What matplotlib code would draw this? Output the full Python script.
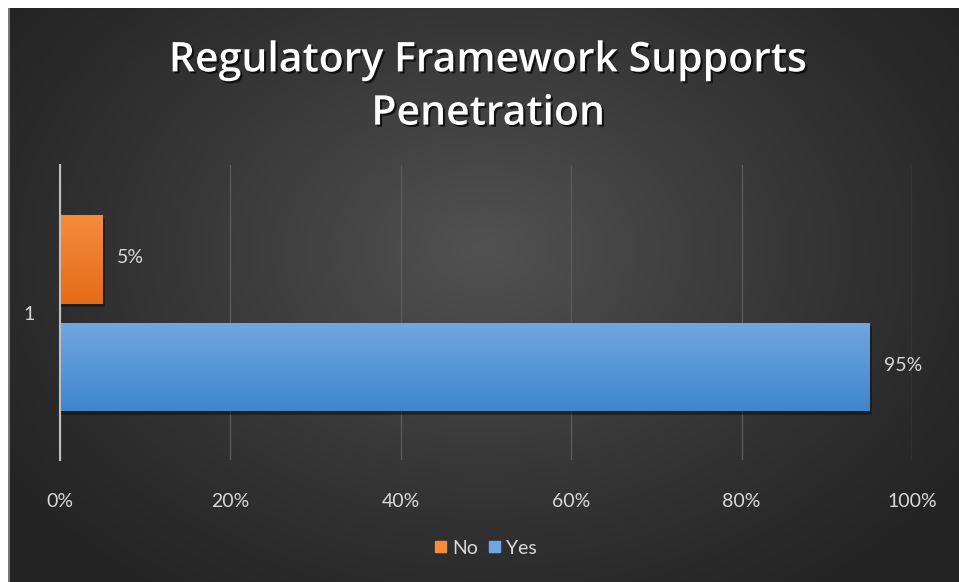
import numpy as np
import matplotlib
matplotlib.use("Agg")
import matplotlib.pyplot as plt
import matplotlib.patheffects as pe
from matplotlib.colors import LinearSegmentedColormap

#---------------------------------
# DATA
#---------------------------------

title = "Regulatory Framework Supports\nPenetration"
categories = ["1"]
series_names = ["No", "Yes"]
series_values = [0.05, 0.95]
series_colors = [("#f68b3e", "#e46c17"), ("#70a7e1", "#3f86cc")]
x_ticks = [0.0, 0.2, 0.4, 0.6, 0.8, 1.0]
x_tick_labels = ["0%", "20%", "40%", "60%", "80%", "100%"]

plt.rcParams["font.family"] = ["Lato", "DejaVu Sans"]

W, H = 959, 582
fig = plt.figure(figsize=(W / 100, H / 100), dpi=100, facecolor="white")

#---------------------------------
# BACKGROUND (radial dark gradient)
#---------------------------------

bg = fig.add_axes([8 / W, 0, 1 - 8 / W, 1 - 8 / H], zorder=0)
yy, xx = np.mgrid[0:1:300j, 0:1:500j]
r = np.sqrt(((xx - 0.5) / 0.62) ** 2 + ((yy - 0.42) / 0.75) ** 2)
shade = np.clip(1 - r, 0, 1) ** 1.2
bg_cmap = LinearSegmentedColormap.from_list("bg", ["#242424", "#525252"])
bg.imshow(shade, cmap=bg_cmap, aspect="auto", extent=[0, 1, 0, 1],
          vmin=0, vmax=1, interpolation="bilinear")
bg.axvline(0.001, color="#8a8a8a", lw=1.2)
bg.set_axis_off()

#---------------------------------
# BAR CHART
#---------------------------------

left, right = 60 / W, 912 / W
top, bottom = 1 - 165 / H, 1 - 460 / H
ax = fig.add_axes([left, bottom, right - left, top - bottom], zorder=1)
ax.patch.set_alpha(0)

offsets = [-0.18, 0.185]
bar_h = 0.30
for val, off, (c_top, c_bot), name in zip(series_values, offsets,
                                           series_colors, series_names):
    # shadow under each bar
    ax.barh(off + 0.012, val + 0.003, height=bar_h, color="#111111",
            alpha=0.55, zorder=2)
    bar = ax.barh(off, val, height=bar_h, color=c_top, label=name,
                  zorder=3)[0]
    grad = np.linspace(0, 1, 100).reshape(-1, 1)
    cmap = LinearSegmentedColormap.from_list(name, [c_top, c_bot])
    im = ax.imshow(grad, cmap=cmap, aspect="auto", zorder=4,
                   extent=[0, val, off + bar_h / 2, off - bar_h / 2])
    im.set_clip_path(bar)
    ax.text(val + 0.017, off - 0.005, f"{val:.0%}", color="#d9d9d9",
            fontsize=14, va="center", ha="left", zorder=5)

ax.set_xlim(0, 1)
ax.set_ylim(0.5, -0.5)
ax.set_xticks(x_ticks)
ax.set_xticklabels(x_tick_labels)
ax.set_yticks([0.0])
ax.set_yticklabels(categories)
ax.tick_params(axis="x", length=0, pad=24, colors="#d9d9d9", labelsize=14)
ax.tick_params(axis="y", length=0, pad=18, colors="#d9d9d9", labelsize=14)
ax.grid(axis="x", color="#5a5a5a", lw=1, zorder=1)
for side in ["top", "right", "bottom"]:
    ax.spines[side].set_visible(False)
ax.spines["left"].set_color("#bfbfbf")
ax.spines["left"].set_linewidth(1.5)
ax.spines["left"].set_zorder(6)

#---------------------------------
# TITLE AND LEGEND
#---------------------------------

fig.text(0.509, 1 - 87 / H, title, ha="center", va="center", color="white",
         fontsize=29.5, fontweight="semibold", linespacing=1.35,
         family=["Open Sans", "DejaVu Sans"],
         path_effects=[pe.withSimplePatchShadow(offset=(1.5, -1.5),
                                                shadow_rgbFace="black",
                                                alpha=0.7)])

handles = [plt.Rectangle((0, 0), 1, 1, color=c[0]) for c in series_colors]
leg = fig.legend(handles, series_names, loc="center",
                 bbox_to_anchor=(486 / W, 1 - 548 / H), ncol=2, frameon=False,
                 fontsize=14, handlelength=0.55, handleheight=0.55,
                 handletextpad=0.3, columnspacing=0.6, labelcolor="#d9d9d9")

fig.savefig("out.png", dpi=100, facecolor="white")
